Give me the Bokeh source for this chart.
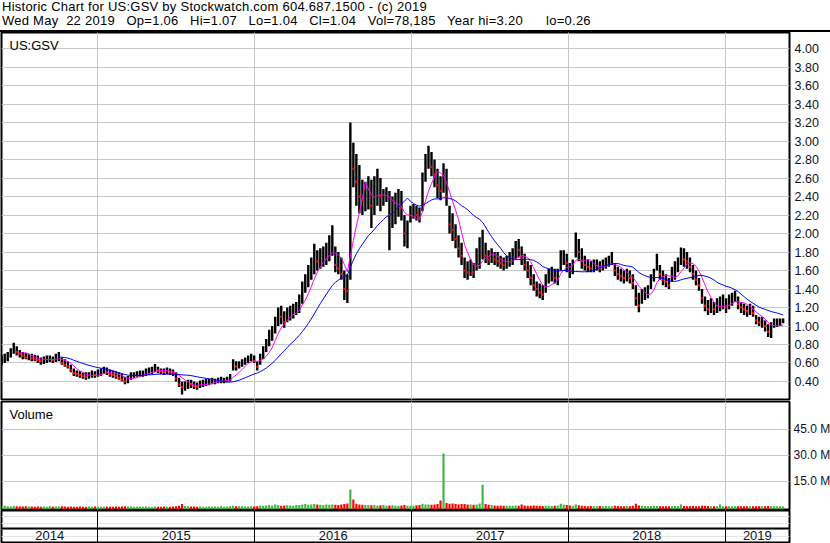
import numpy as np
import pandas as pd
from bokeh.plotting import figure
from bokeh.layouts import column
from bokeh.models import (Range1d, FixedTicker, PrintfTickFormatter, Label, Div,
                          ColumnDataSource, Grid)
from bokeh.core.properties import value
from bokeh.embed import file_html
from bokeh.resources import INLINE

SYMBOL = "US:GSV"
HEADER_1 = "Historic Chart for US:GSV by Stockwatch.com 604.687.1500 - (c) 2019"
HEADER_2 = ("Wed May  22 2019   Op=1.06   Hi=1.07   Lo=1.04   Cl=1.04   "
            "Vol=78,185   Year hi=3.20      lo=0.26")

WEEK_START = "2014-05-22"
X_START = "2014-05-21 12:00"
X_END = "2019-05-30 19:00"
YEARS = [2014, 2015, 2016, 2017, 2018, 2019]

HIGH = [
    .68, .70, .72, .76, .82, .78, .74, .72, .71, .70,
    .70, .69, .68, .66, .67, .68, .68, .67, .70, .72,
    .66, .64, .62, .58, .54, .52, .51, .50, .50, .50,
    .52, .51, .53, .54, .56, .55, .53, .52, .51, .50,
    .48, .45, .46, .50, .50, .51, .52, .52, .54, .55,
    .56, .59, .56, .54, .54, .55, .54, .53, .50, .44,
    .40, .40, .42, .42, .40, .39, .41, .42, .43, .43,
    .44, .43, .44, .45, .44, .45, .48, .64, .62, .62,
    .64, .66, .68, .70, .68, .62, .70, .78, .86, .96,
    1.00, 1.10, 1.20, 1.22, 1.16, 1.20, 1.22, 1.24, 1.26, 1.34,
    1.48, 1.56, 1.66, 1.74, 1.89, 1.82, 1.84, 1.86, 1.90, 1.98,
    2.09, 1.86, 1.80, 1.74, 1.60, 1.56, 3.20, 2.98, 2.86, 2.74,
    2.58, 2.56, 2.62, 2.58, 2.62, 2.70, 2.60, 2.48, 2.50, 2.46,
    2.40, 2.44, 2.48, 2.46, 2.20, 2.14, 2.30, 2.32, 2.30, 2.28,
    2.66, 2.86, 2.95, 2.88, 2.80, 2.70, 2.62, 2.76, 2.70, 2.30,
    2.22, 2.10, 1.98, 1.90, 1.74, 1.70, 1.72, 1.68, 1.84, 1.96,
    2.04, 1.90, 1.82, 1.84, 1.80, 1.80, 1.76, 1.74, 1.76, 1.80,
    1.84, 1.92, 1.94, 1.86, 1.78, 1.70, 1.66, 1.56, 1.48, 1.46,
    1.44, 1.56, 1.62, 1.64, 1.62, 1.62, 1.82, 1.82, 1.78, 1.68,
    1.72, 2.01, 1.94, 1.84, 1.76, 1.72, 1.70, 1.72, 1.72, 1.70,
    1.72, 1.74, 1.76, 1.80, 1.68, 1.64, 1.62, 1.60, 1.62, 1.60,
    1.56, 1.44, 1.36, 1.40, 1.42, 1.44, 1.56, 1.62, 1.78, 1.66,
    1.60, 1.56, 1.52, 1.64, 1.70, 1.74, 1.85, 1.84, 1.80, 1.74,
    1.66, 1.60, 1.52, 1.40, 1.32, 1.28, 1.30, 1.26, 1.30, 1.32,
    1.34, 1.30, 1.34, 1.36, 1.38, 1.32, 1.26, 1.24, 1.22, 1.24,
    1.22, 1.12, 1.10, 1.10, 1.06, 1.02, 1.04, 1.08, 1.08, 1.08,
    1.08,
]
LOW = [
    .58, .60, .62, .66, .70, .68, .66, .64, .64, .63,
    .62, .62, .60, .58, .59, .60, .61, .60, .61, .62,
    .58, .56, .54, .50, .46, .45, .44, .43, .42, .43,
    .44, .44, .45, .46, .48, .47, .45, .44, .43, .42,
    .40, .37, .38, .42, .44, .45, .45, .45, .46, .47,
    .48, .50, .49, .48, .47, .48, .47, .46, .40, .34,
    .26, .30, .32, .33, .32, .31, .33, .34, .35, .36,
    .37, .37, .38, .38, .38, .39, .40, .52, .52, .54,
    .56, .58, .60, .62, .60, .52, .58, .64, .72, .78,
    .84, .92, 1.00, 1.02, .98, 1.04, 1.06, 1.08, 1.12, 1.14,
    1.24, 1.36, 1.42, 1.50, 1.56, 1.60, 1.62, 1.64, 1.66, 1.70,
    1.76, 1.58, 1.56, 1.50, 1.28, 1.25, 1.50, 2.50, 2.30, 2.22,
    2.20, 2.24, 2.26, 2.06, 2.20, 2.30, 2.24, 2.30, 2.34, 1.82,
    2.06, 2.10, 2.18, 2.14, 1.86, 1.84, 2.12, 2.16, 2.14, 2.12,
    2.24, 2.56, 2.70, 2.62, 2.50, 2.38, 2.36, 2.44, 2.30, 2.00,
    1.92, 1.84, 1.74, 1.66, 1.52, 1.50, 1.54, 1.52, 1.60, 1.62,
    1.72, 1.68, 1.66, 1.68, 1.66, 1.64, 1.62, 1.60, 1.62, 1.64,
    1.66, 1.72, 1.74, 1.66, 1.60, 1.52, 1.44, 1.38, 1.32, 1.30,
    1.28, 1.36, 1.46, 1.48, 1.46, 1.44, 1.60, 1.66, 1.58, 1.52,
    1.56, 1.74, 1.70, 1.62, 1.60, 1.58, 1.58, 1.58, 1.60, 1.58,
    1.60, 1.62, 1.64, 1.66, 1.54, 1.50, 1.48, 1.46, 1.48, 1.46,
    1.40, 1.22, 1.15, 1.24, 1.28, 1.30, 1.40, 1.48, 1.60, 1.50,
    1.44, 1.42, 1.40, 1.48, 1.50, 1.58, 1.66, 1.64, 1.62, 1.58,
    1.50, 1.44, 1.38, 1.24, 1.16, 1.12, 1.14, 1.12, 1.14, 1.16,
    1.18, 1.14, 1.18, 1.22, 1.26, 1.18, 1.14, 1.12, 1.10, 1.12,
    1.10, 1.02, 1.00, .98, .94, .88, .87, .98, .99, 1.00,
    1.03,
]
CLOSE = [
    .62, .66, .68, .72, .76, .72, .70, .68, .66, .66,
    .65, .64, .63, .62, .64, .64, .65, .63, .66, .66,
    .60, .58, .56, .52, .49, .48, .47, .46, .45, .46,
    .48, .47, .49, .50, .52, .50, .48, .47, .46, .44,
    .42, .40, .42, .46, .47, .48, .48, .49, .50, .51,
    .52, .54, .52, .51, .50, .51, .50, .49, .43, .37,
    .34, .36, .38, .37, .35, .34, .37, .38, .39, .40,
    .40, .40, .41, .41, .41, .42, .44, .58, .56, .58,
    .60, .62, .64, .66, .62, .56, .66, .74, .80, .90,
    .94, 1.02, 1.12, 1.10, 1.04, 1.14, 1.16, 1.18, 1.20, 1.28,
    1.40, 1.46, 1.56, 1.64, 1.72, 1.70, 1.74, 1.76, 1.80, 1.86,
    1.90, 1.66, 1.62, 1.56, 1.40, 1.38, 2.90, 2.70, 2.56, 2.40,
    2.36, 2.40, 2.46, 2.30, 2.44, 2.50, 2.40, 2.40, 2.42, 2.20,
    2.24, 2.30, 2.34, 2.28, 2.00, 2.06, 2.20, 2.24, 2.20, 2.18,
    2.54, 2.76, 2.84, 2.72, 2.64, 2.52, 2.46, 2.58, 2.40, 2.10,
    2.04, 1.94, 1.84, 1.76, 1.60, 1.58, 1.62, 1.58, 1.74, 1.80,
    1.90, 1.76, 1.72, 1.74, 1.72, 1.70, 1.68, 1.66, 1.68, 1.72,
    1.76, 1.84, 1.82, 1.74, 1.66, 1.60, 1.52, 1.44, 1.40, 1.36,
    1.34, 1.48, 1.54, 1.56, 1.52, 1.54, 1.74, 1.74, 1.68, 1.60,
    1.64, 1.86, 1.80, 1.70, 1.66, 1.64, 1.62, 1.64, 1.66, 1.62,
    1.66, 1.68, 1.70, 1.72, 1.60, 1.56, 1.54, 1.52, 1.56, 1.52,
    1.46, 1.30, 1.22, 1.32, 1.36, 1.38, 1.50, 1.56, 1.70, 1.56,
    1.50, 1.48, 1.44, 1.56, 1.62, 1.66, 1.76, 1.72, 1.70, 1.64,
    1.56, 1.50, 1.44, 1.30, 1.22, 1.18, 1.22, 1.18, 1.20, 1.24,
    1.26, 1.20, 1.26, 1.30, 1.32, 1.24, 1.20, 1.18, 1.16, 1.18,
    1.14, 1.06, 1.04, 1.04, 1.00, .94, .98, 1.02, 1.04, 1.04,
    1.04,
]
VOLUME_M = [
    0.6, 0.8, 0.5, 0.4, 0.7, 0.5, 0.4, 0.4, 0.5, 0.4,
    0.4, 0.3, 0.4, 0.3, 0.4, 0.3, 0.5, 0.3, 0.4, 0.4,
    0.5, 0.4, 0.3, 0.4, 0.3, 0.3, 0.4, 0.3, 0.3, 0.4,
    0.3, 0.4, 0.3, 0.3, 0.3, 0.4, 0.3, 0.3, 0.4, 0.3,
    0.4, 0.5, 0.4, 0.4, 0.3, 0.3, 0.3, 0.3, 0.4, 0.3,
    0.3, 0.4, 0.3, 0.3, 0.4, 0.3, 0.3, 0.4, 0.6, 0.9,
    1.8, 0.7, 0.5, 0.4, 0.4, 0.3, 0.4, 0.3, 0.3, 0.4,
    0.3, 0.4, 0.3, 0.5, 0.3, 0.4, 0.5, 0.9, 0.6, 0.5,
    0.5, 0.4, 0.4, 0.5, 0.4, 0.6, 0.8, 0.9, 1.0, 1.2,
    1.0, 1.5, 1.2, 0.9, 1.0, 1.1, 1.0, 0.9, 1.2, 1.3,
    1.6, 1.8, 1.4, 1.6, 1.9, 1.5, 1.4, 1.3, 1.5, 1.4,
    1.6, 1.4, 1.2, 1.5, 1.8, 2.2, 10.2, 4.4, 2.0, 1.5,
    1.4, 1.2, 1.3, 1.1, 1.2, 1.0, 1.1, 1.2, 0.9, 1.0,
    1.1, 0.9, 0.9, 1.0, 1.3, 0.9, 0.8, 0.9, 1.1, 1.2,
    2.0, 1.6, 1.5, 1.4, 1.6, 1.8, 3.8, 31.0, 2.4, 2.0,
    2.2, 1.8, 1.6, 1.8, 1.9, 1.6, 1.5, 1.4, 1.6, 2.2,
    13.0, 1.8, 1.4, 1.2, 1.0, 0.9, 1.0, 0.8, 0.9, 0.8,
    0.9, 1.0, 0.9, 1.5, 1.0, 0.9, 0.8, 1.0, 0.9, 0.8,
    0.7, 0.9, 0.8, 0.7, 0.8, 1.0, 2.0, 1.4, 1.2, 1.0,
    0.9, 1.5, 1.1, 0.8, 0.7, 0.6, 0.7, 0.6, 0.6, 0.7,
    0.6, 0.7, 0.6, 0.6, 0.8, 0.7, 0.6, 0.6, 0.7, 0.6,
    0.9, 2.0, 1.0, 0.8, 0.7, 0.6, 0.7, 0.8, 0.7, 0.6,
    0.6, 0.5, 0.6, 0.6, 0.7, 0.6, 1.6, 0.7, 0.6, 0.6,
    0.7, 0.6, 0.6, 0.8, 0.9, 0.7, 0.6, 0.6, 0.6, 1.6,
    0.6, 0.5, 0.5, 0.6, 0.5, 0.5, 0.6, 0.5, 0.5, 0.6,
    0.5, 0.6, 0.5, 0.5, 0.6, 0.7, 0.6, 0.5, 0.5, 0.5,
    0.4,
]
PRICE_TICKS = [0.4, 0.6, 0.8, 1.0, 1.2, 1.4, 1.6, 1.8, 2.0, 2.2, 2.4,
               2.6, 2.8, 3.0, 3.2, 3.4, 3.6, 3.8, 4.0]
PRICE_RANGE = (0.2054, 4.173)
VOLUME_TICKS = [15, 30, 45]
VOLUME_RANGE = (-1.33, 61.0)
MA_SHORT_WEEKS = 6
MA_LONG_WEEKS = 20

FONT = "Liberation Sans"
GREEN = "#3fb43f"
RED = "#ff0000"
GRID = "#c8c8c8"
LABEL_COLOR = "#10102a"

TOTAL_W = 830
FRAME_W = 788
RIGHT_W = 41
HEAD_H = 32
PRICE_FH = 367
VOL_FH = 108
STRIP_FH = 32

# ---------------------------------------------------------------- data prep
dates = pd.date_range(WEEK_START, periods=len(CLOSE), freq="7D")
df = pd.DataFrame({"date": dates, "high": HIGH, "low": LOW, "close": CLOSE,
                   "vol": VOLUME_M})
df["ma_s"] = df["close"].rolling(MA_SHORT_WEEKS).mean()
df["ma_l"] = df["close"].rolling(MA_LONG_WEEKS).mean()
chg = df["close"].diff().fillna(0)
df["vcolor"] = np.where(chg >= 0, GREEN, RED)
src = ColumnDataSource(df)
down = ColumnDataSource(df[chg < 0])

x_start = pd.Timestamp(X_START)
x_end = pd.Timestamp(X_END)
xr = Range1d(x_start, x_end)
bounds = [pd.Timestamp(f"{y}-01-01") for y in YEARS[1:]]
bound_ms = [b.value / 1e6 for b in bounds]
edges = [x_start] + bounds + [x_end]
mids = [edges[i] + (edges[i + 1] - edges[i]) / 2 for i in range(len(YEARS))]


def base_fig(fh, yr, top, bottom, right=True):
    f = figure(frame_width=FRAME_W, frame_height=fh, x_range=xr, y_range=yr,
               x_axis_type="datetime", x_axis_location=None,
               y_axis_location="right" if right else None,
               output_backend="svg", toolbar_location=None,
               min_border_left=1, min_border_right=RIGHT_W,
               min_border_top=top, min_border_bottom=bottom)
    f.outline_line_color = "black"
    f.outline_line_width = 2
    f.outline_line_alpha = 1
    f.background_fill_color = "white"
    f.border_fill_color = "white"
    return f


def style_axis(ax, size="12.5px", standoff=5):
    ax.axis_line_color = None
    ax.major_tick_line_color = None
    ax.minor_tick_line_color = None
    ax.major_tick_out = 0
    ax.major_tick_in = 0
    ax.major_label_standoff = standoff
    ax.major_label_text_font = FONT
    ax.major_label_text_font_size = size
    ax.major_label_text_color = LABEL_COLOR


# ---------------------------------------------------------------- header
header = Div(text=HEADER_1 + "\n" + HEADER_2, width=TOTAL_W, height=HEAD_H,
             margin=0,
             styles={"font-family": FONT, "font-size": "13px",
                     "letter-spacing": "0.25px",
                     "line-height": "14px", "white-space": "pre",
                     "border-bottom": "2px solid black",
                     "box-sizing": "border-box", "padding-left": "2px",
                     "color": "black", "overflow": "hidden"})

# ---------------------------------------------------------------- price
p = base_fig(PRICE_FH, Range1d(*PRICE_RANGE), top=0, bottom=1)
style_axis(p.yaxis[0])
p.yaxis.ticker = FixedTicker(ticks=PRICE_TICKS)
p.yaxis.formatter = PrintfTickFormatter(format="%.2f")
p.ygrid.grid_line_color = GRID
p.add_layout(Grid(dimension=0, ticker=FixedTicker(ticks=bound_ms),
                  grid_line_color=GRID))
p.segment(x0="date", x1="date", y0="low", y1="high", source=src,
          line_color="black", line_width=2.4)
p.scatter(x="date", y="close", source=down, marker="square", size=2.2,
          line_color=None, fill_color=RED)
p.line(x="date", y="ma_s", source=src, line_color="#ff00ff", line_width=1)
p.line(x="date", y="ma_l", source=src, line_color="#0000ff", line_width=1)
p.add_layout(Label(x=8, y=PRICE_FH - 5, x_units="screen", y_units="screen",
                   text=SYMBOL, text_font=FONT, text_font_size="13px",
                   text_baseline="top", text_color="black"))

# ---------------------------------------------------------------- volume
v = base_fig(VOL_FH, Range1d(*VOLUME_RANGE), top=1, bottom=1)
style_axis(v.yaxis[0], size="12px", standoff=4)
v.yaxis.ticker = FixedTicker(ticks=VOLUME_TICKS)
v.yaxis.formatter = PrintfTickFormatter(format="%.1f M")
v.ygrid.grid_line_color = GRID
v.add_layout(Grid(dimension=0, ticker=FixedTicker(ticks=bound_ms),
                  grid_line_color=GRID))
v.vbar(x="date", top="vol", bottom=VOLUME_RANGE[0], width=5 * 86400000,
       source=src, fill_color="vcolor", line_color=None)
v.add_layout(Label(x=8, y=VOL_FH - 5, x_units="screen", y_units="screen",
                   text="Volume", text_font=FONT, text_font_size="13px",
                   text_baseline="top", text_color="black"))

# ---------------------------------------------------------------- year strip
b = base_fig(STRIP_FH, Range1d(0, 1), top=0, bottom=1, right=False)
b.add_layout(Grid(dimension=0, ticker=FixedTicker(ticks=bound_ms),
                  grid_line_color="black", grid_line_width=1))
b.add_layout(Grid(dimension=1, ticker=FixedTicker(ticks=[0.4375]),
                  grid_line_color="black", grid_line_width=2))
b.text(x=mids, y=[0.22] * len(YEARS), text=[str(y) for y in YEARS],
       text_font=value(FONT), text_font_size="13px", text_align="center",
       text_baseline="middle", text_color=LABEL_COLOR)

layout = column(header, p, v, b, spacing=0)
open("out.html", "w").write(file_html(layout, INLINE))
